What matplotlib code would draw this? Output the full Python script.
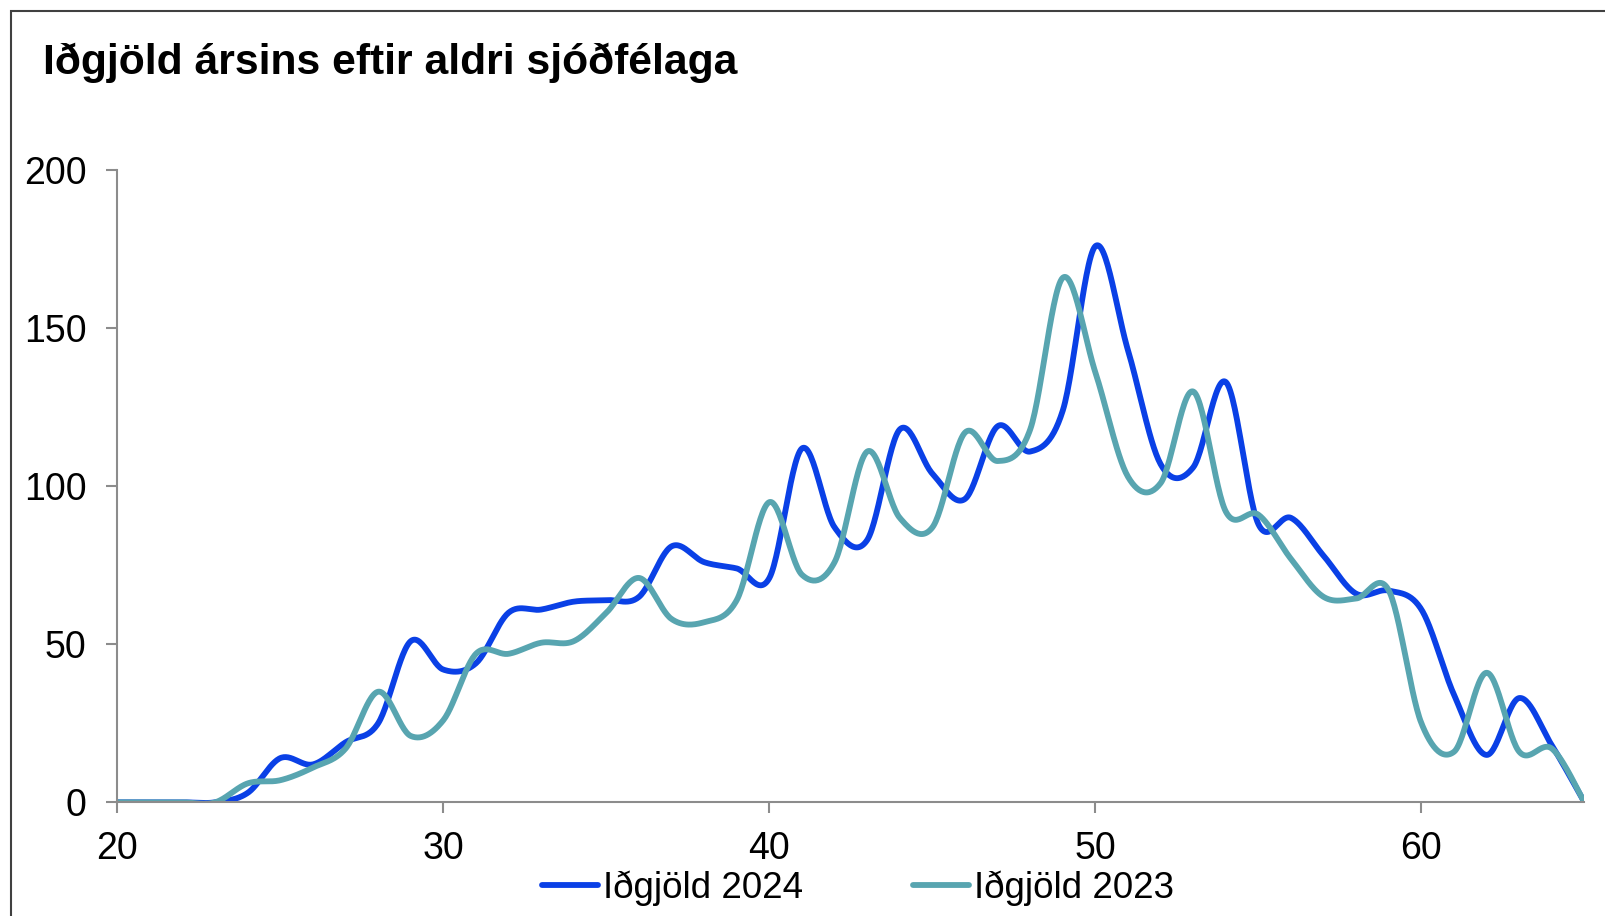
import numpy as np
import matplotlib
matplotlib.use("Agg")
import matplotlib.pyplot as plt
from matplotlib.patches import Rectangle

plt.rcParams["font.family"] = ["Liberation Sans", "DejaVu Sans"]

# age of fund member
ages = list(range(20, 66))
# contributions 2024
contrib_2024 = [0, 0, 0, 0, 3, 14, 12, 19, 25, 51,
                42, 44, 60, 61, 63.5, 64, 65, 81, 76, 74,
                71, 112, 87, 83, 118, 104, 96, 119, 111, 124,
                176, 143, 107, 106, 133, 88, 90, 78, 66, 67,
                61, 34, 15, 33, 18, 0]
# contributions 2023
contrib_2023 = [0, 0, 0, 0, 6, 7, 11, 17, 35, 21,
                26, 47, 47, 50.5, 51, 60, 71, 58, 57, 64,
                95, 72, 76, 111, 90, 87, 117, 108, 118, 166,
                136, 103, 101, 130, 92, 91, 77, 65, 64.5, 67,
                25, 16, 41, 16, 17, 0]
series_names = ["Iðgjöld 2024", "Iðgjöld 2023"]
title = "Iðgjöld ársins eftir aldri sjóðfélaga"


def smooth(x, y, n=30):
    # bezier smoothing like the spreadsheet "smoothed line"
    p = np.column_stack([x, y]).astype(float)
    pp = np.vstack([p[0], p, p[-1]])
    t = np.linspace(0, 1, n)[:, None]
    out = []
    for i in range(len(p) - 1):
        p0, p1 = pp[i + 1], pp[i + 2]
        c1 = p0 + (pp[i + 2] - pp[i]) / 6
        c2 = p1 - (pp[i + 3] - pp[i + 1]) / 6
        seg = ((1 - t) ** 3) * p0 + 3 * ((1 - t) ** 2) * t * c1 \
            + 3 * (1 - t) * t ** 2 * c2 + t ** 3 * p1
        out.append(seg if i == 0 else seg[1:])
    out = np.vstack(out)
    return out[:, 0], out[:, 1]


fig = plt.figure(figsize=(16.05, 9.16), dpi=100)
ax = fig.add_axes([0.0731, 0.1241, 0.9141, 0.69])

colors = ["#0A40E6", "#58A5B0"]
for vals, name, c in zip([contrib_2024, contrib_2023], series_names, colors):
    sx, sy = smooth(ages, vals)
    ax.plot(sx, sy, color=c, lw=4.2, label=name, solid_capstyle="round")

ax.set_xlim(20, 65)
ax.set_ylim(0, 200)
ax.set_xticks([20, 30, 40, 50, 60])
ax.set_yticks([0, 50, 100, 150, 200])
for s in ["top", "right"]:
    ax.spines[s].set_visible(False)
for s in ["left", "bottom"]:
    ax.spines[s].set_color("#8c8c8c")
    ax.spines[s].set_linewidth(1.5)
ax.tick_params(axis="both", colors="#8c8c8c", length=8, width=1.5,
               labelsize=27, labelcolor="black")
ax.tick_params(axis="y", pad=14)
ax.tick_params(axis="x", pad=13)

fig.text(43 / 1605, 0.931, title, fontsize=30.7, fontweight="bold", va="center")

fig.legend(loc="center", bbox_to_anchor=(0.5346, 0.0306), ncol=2,
           frameon=False, fontsize=26.5, handlelength=1.5, handletextpad=0.14,
           columnspacing=3.0)

fig.patches.append(Rectangle((11 / 1605, -0.1), 1.2, 1 - 11 / 916 + 0.1,
                             transform=fig.transFigure, fill=False,
                             edgecolor="#404040", lw=1.5))

fig.savefig("out.png", dpi=100)
